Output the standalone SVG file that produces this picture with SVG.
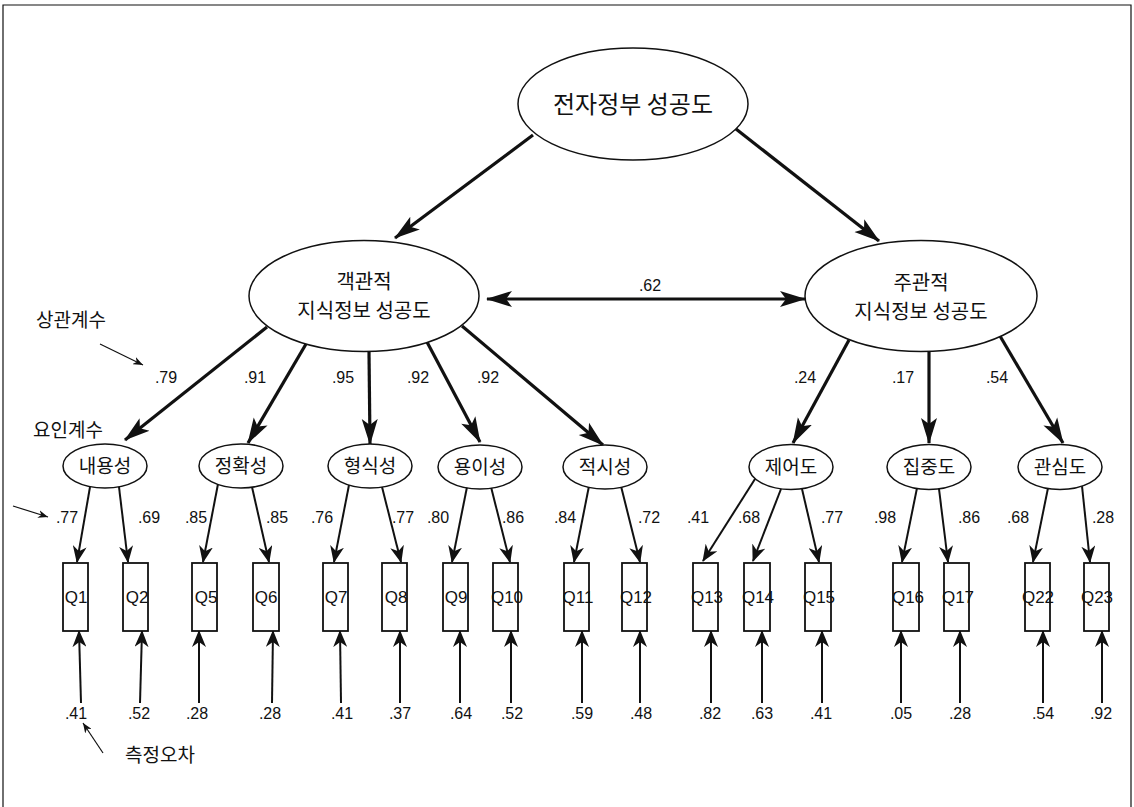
<svg xmlns="http://www.w3.org/2000/svg" width="1134" height="807" viewBox="0 0 1134 807">
<defs>
<style>
.kr{font-family:"Noto Sans CJK KR","Noto Sans",sans-serif;fill:#111;text-anchor:middle}
.num{font-family:"Liberation Sans",Arial,sans-serif;font-size:16px;fill:#111;text-anchor:middle}
.q{font-family:"Liberation Sans",Arial,sans-serif;font-size:17px;fill:#111;text-anchor:middle}
.ell{fill:#fff;stroke:#111;stroke-width:1.5}
.box{fill:#fff;stroke:#111;stroke-width:1.8}
.thick{fill:none;stroke:#111;stroke-width:3.2;marker-end:url(#ah)}
.thin{fill:none;stroke:#111;stroke-width:2;marker-end:url(#as)}
.note{fill:none;stroke:#111;stroke-width:1.2;marker-end:url(#at)}
</style>
<marker id="ah" markerUnits="userSpaceOnUse" markerWidth="26" markerHeight="18" viewBox="0 0 26 18" refX="25" refY="9" orient="auto-start-reverse"><path d="M0,1 L26,9 L0,17 L6,9 Z" fill="#111"/></marker>
<marker id="as" markerUnits="userSpaceOnUse" markerWidth="17" markerHeight="14" viewBox="0 0 17 14" refX="16" refY="7" orient="auto"><path d="M0,0 L17,7 L0,14 L5,7 Z" fill="#111"/></marker>
<marker id="at" markerUnits="userSpaceOnUse" markerWidth="10" markerHeight="8" viewBox="0 0 10 8" refX="10" refY="4" orient="auto"><path d="M0,0 L10,4 L0,8 L3,4 Z" fill="#111"/></marker>
</defs>
<rect width="1134" height="807" fill="#fff"/>
<path d="M3,807 V5 H1131 V807" fill="none" stroke="#111" stroke-width="1.2"/>

<g id="connectors">
<path class="thick" d="M533,135 L395,238"/>
<path class="thick" d="M736,129 L879,241"/>
<path class="thick" d="M487,299 L805,299" style="marker-start:url(#ah)"/>
<path class="thick" d="M267,327 L125,440"/>
<path class="thick" d="M306,344 L248,443"/>
<path class="thick" d="M369,352 L370,444"/>
<path class="thick" d="M427,342 L480,442"/>
<path class="thick" d="M462,326 L603,445"/>
<path class="thick" d="M849,340 L793,443"/>
<path class="thick" d="M929,352 L929,443"/>
<path class="thick" d="M1000,336 L1063,443"/>
<path class="thin" d="M90,487 L77,562"/>
<path class="thin" d="M119,487 L128,562"/>
<path class="thin" d="M218,484 L203,562"/>
<path class="thin" d="M252,487 L269,562"/>
<path class="thin" d="M349,485 L334,562"/>
<path class="thin" d="M382,487 L401,562"/>
<path class="thin" d="M467,487 L452,562"/>
<path class="thin" d="M491,487 L510,562"/>
<path class="thin" d="M589,486 L574,562"/>
<path class="thin" d="M621,486 L640,562"/>
<path class="thin" d="M755,479 L703,561"/>
<path class="thin" d="M781,489 L753,561"/>
<path class="thin" d="M802,489 L819,562"/>
<path class="thin" d="M917,488 L902,562"/>
<path class="thin" d="M939,489 L948,562"/>
<path class="thin" d="M1048,488 L1033,562"/>
<path class="thin" d="M1082,486 L1090,562"/>
<path class="thin" d="M81,703 L79,631"/>
<path class="thin" d="M140,703 L142,631"/>
<path class="thin" d="M199,703 L199,631"/>
<path class="thin" d="M272,703 L273,631"/>
<path class="thin" d="M341,703 L340,631"/>
<path class="thin" d="M400,703 L400,631"/>
<path class="thin" d="M460,703 L460,631"/>
<path class="thin" d="M511,703 L511,631"/>
<path class="thin" d="M582,703 L582,631"/>
<path class="thin" d="M640,703 L640,631"/>
<path class="thin" d="M711,703 L711,631"/>
<path class="thin" d="M762,703 L762,631"/>
<path class="thin" d="M822,703 L822,631"/>
<path class="thin" d="M901,703 L901,631"/>
<path class="thin" d="M960,703 L960,631"/>
<path class="thin" d="M1043,703 L1043,631"/>
<path class="thin" d="M1102,703 L1102,631"/>
<path class="note" d="M100,344 L143,365"/>
<path class="note" d="M13,506 L48,517"/>
<path class="note" d="M103,753 L83,723"/>
</g>

<g id="edge-labels" class="num">
<text x="650" y="291">.62</text>
<text x="166" y="383">.79</text><text x="255" y="383">.91</text><text x="343" y="383">.95</text><text x="418" y="383">.92</text><text x="488" y="383">.92</text>
<text x="805" y="383">.24</text><text x="903" y="383">.17</text><text x="997" y="383">.54</text>
<text x="67" y="523">.77</text><text x="149" y="523">.69</text><text x="196" y="523">.85</text><text x="277" y="523">.85</text><text x="322" y="523">.76</text><text x="403" y="523">.77</text><text x="438" y="523">.80</text><text x="513" y="523">.86</text><text x="565" y="523">.84</text><text x="649" y="523">.72</text><text x="698" y="523">.41</text><text x="749" y="523">.68</text><text x="832" y="523">.77</text><text x="885" y="523">.98</text><text x="969" y="523">.86</text><text x="1018" y="523">.68</text><text x="1103" y="523">.28</text>
<text x="76" y="719">.41</text><text x="139" y="719">.52</text><text x="197" y="719">.28</text><text x="270" y="719">.28</text><text x="342" y="719">.41</text><text x="400" y="719">.37</text><text x="461" y="719">.64</text><text x="512" y="719">.52</text><text x="582" y="719">.59</text><text x="641" y="719">.48</text><text x="710" y="719">.82</text><text x="762" y="719">.63</text><text x="821" y="719">.41</text><text x="901" y="719">.05</text><text x="960" y="719">.28</text><text x="1043" y="719">.54</text><text x="1101" y="719">.92</text>
</g>

<g id="annotations" class="kr" style="font-size:19px">
<text x="71" y="327">상관계수</text>
<text x="68" y="437">요인계수</text>
<text x="160" y="762">측정오차</text>
</g>

<g id="n-egov"><ellipse class="ell" cx="633" cy="104" rx="115" ry="56"/><text class="kr" x="633" y="113" style="font-size:24px">전자정부 성공도</text></g>
<g id="n-obj"><ellipse class="ell" cx="364" cy="296" rx="115" ry="55.5"/><text class="kr" x="364" y="289" style="font-size:20px">객관적</text><text class="kr" x="364" y="318" style="font-size:20px">지식정보 성공도</text></g>
<g id="n-subj"><ellipse class="ell" cx="921" cy="296" rx="116" ry="55.5"/><text class="kr" x="921" y="290" style="font-size:20px">주관적</text><text class="kr" x="921" y="319" style="font-size:20px">지식정보 성공도</text></g>

<g id="n-content"><ellipse class="ell" cx="105" cy="466" rx="42" ry="22"/><text class="kr" x="105" y="473" style="font-size:19px">내용성</text></g>
<g id="n-accuracy"><ellipse class="ell" cx="241" cy="466" rx="42" ry="22"/><text class="kr" x="241" y="473" style="font-size:19px">정확성</text></g>
<g id="n-format"><ellipse class="ell" cx="370" cy="466" rx="42" ry="22"/><text class="kr" x="370" y="473" style="font-size:19px">형식성</text></g>
<g id="n-ease"><ellipse class="ell" cx="480" cy="467" rx="42" ry="22"/><text class="kr" x="480" y="474" style="font-size:19px">용이성</text></g>
<g id="n-timely"><ellipse class="ell" cx="605" cy="467" rx="42" ry="22"/><text class="kr" x="605" y="474" style="font-size:19px">적시성</text></g>
<g id="n-control"><ellipse class="ell" cx="791" cy="467" rx="42" ry="22.5"/><text class="kr" x="791" y="474" style="font-size:19px">제어도</text></g>
<g id="n-focus"><ellipse class="ell" cx="929" cy="467" rx="42" ry="22.5"/><text class="kr" x="929" y="474" style="font-size:19px">집중도</text></g>
<g id="n-interest"><ellipse class="ell" cx="1060" cy="467" rx="42" ry="22.5"/><text class="kr" x="1060" y="474" style="font-size:19px">관심도</text></g>

<g id="n-q1"><rect class="box" x="63" y="563" width="25" height="68"/><text class="q" x="76" y="603">Q1</text></g>
<g id="n-q2"><rect class="box" x="123" y="563" width="25" height="68"/><text class="q" x="137" y="603">Q2</text></g>
<g id="n-q5"><rect class="box" x="192" y="563" width="25" height="68"/><text class="q" x="206" y="603">Q5</text></g>
<g id="n-q6"><rect class="box" x="253" y="563" width="26" height="68"/><text class="q" x="266" y="603">Q6</text></g>
<g id="n-q7"><rect class="box" x="323" y="563" width="25" height="68"/><text class="q" x="336" y="603">Q7</text></g>
<g id="n-q8"><rect class="box" x="382" y="563" width="25" height="68"/><text class="q" x="396" y="603">Q8</text></g>
<g id="n-q9"><rect class="box" x="443" y="563" width="25" height="68"/><text class="q" x="456" y="603">Q9</text></g>
<g id="n-q10"><rect class="box" x="493" y="563" width="25" height="68"/><text class="q" x="507" y="603">Q10</text></g>
<g id="n-q11"><rect class="box" x="564" y="563" width="25" height="68"/><text class="q" x="578" y="603">Q11</text></g>
<g id="n-q12"><rect class="box" x="622" y="563" width="25" height="68"/><text class="q" x="636" y="603">Q12</text></g>
<g id="n-q13"><rect class="box" x="693" y="563" width="25" height="68"/><text class="q" x="707" y="603">Q13</text></g>
<g id="n-q14"><rect class="box" x="744" y="563" width="26" height="68"/><text class="q" x="758" y="603">Q14</text></g>
<g id="n-q15"><rect class="box" x="805" y="563" width="26" height="68"/><text class="q" x="819" y="603">Q15</text></g>
<g id="n-q16"><rect class="box" x="893" y="563" width="26" height="68"/><text class="q" x="908" y="603">Q16</text></g>
<g id="n-q17"><rect class="box" x="944" y="563" width="25" height="68"/><text class="q" x="958" y="603">Q17</text></g>
<g id="n-q22"><rect class="box" x="1025" y="563" width="25" height="68"/><text class="q" x="1038" y="603">Q22</text></g>
<g id="n-q23"><rect class="box" x="1084" y="563" width="25" height="68"/><text class="q" x="1097" y="603">Q23</text></g>
</svg>
